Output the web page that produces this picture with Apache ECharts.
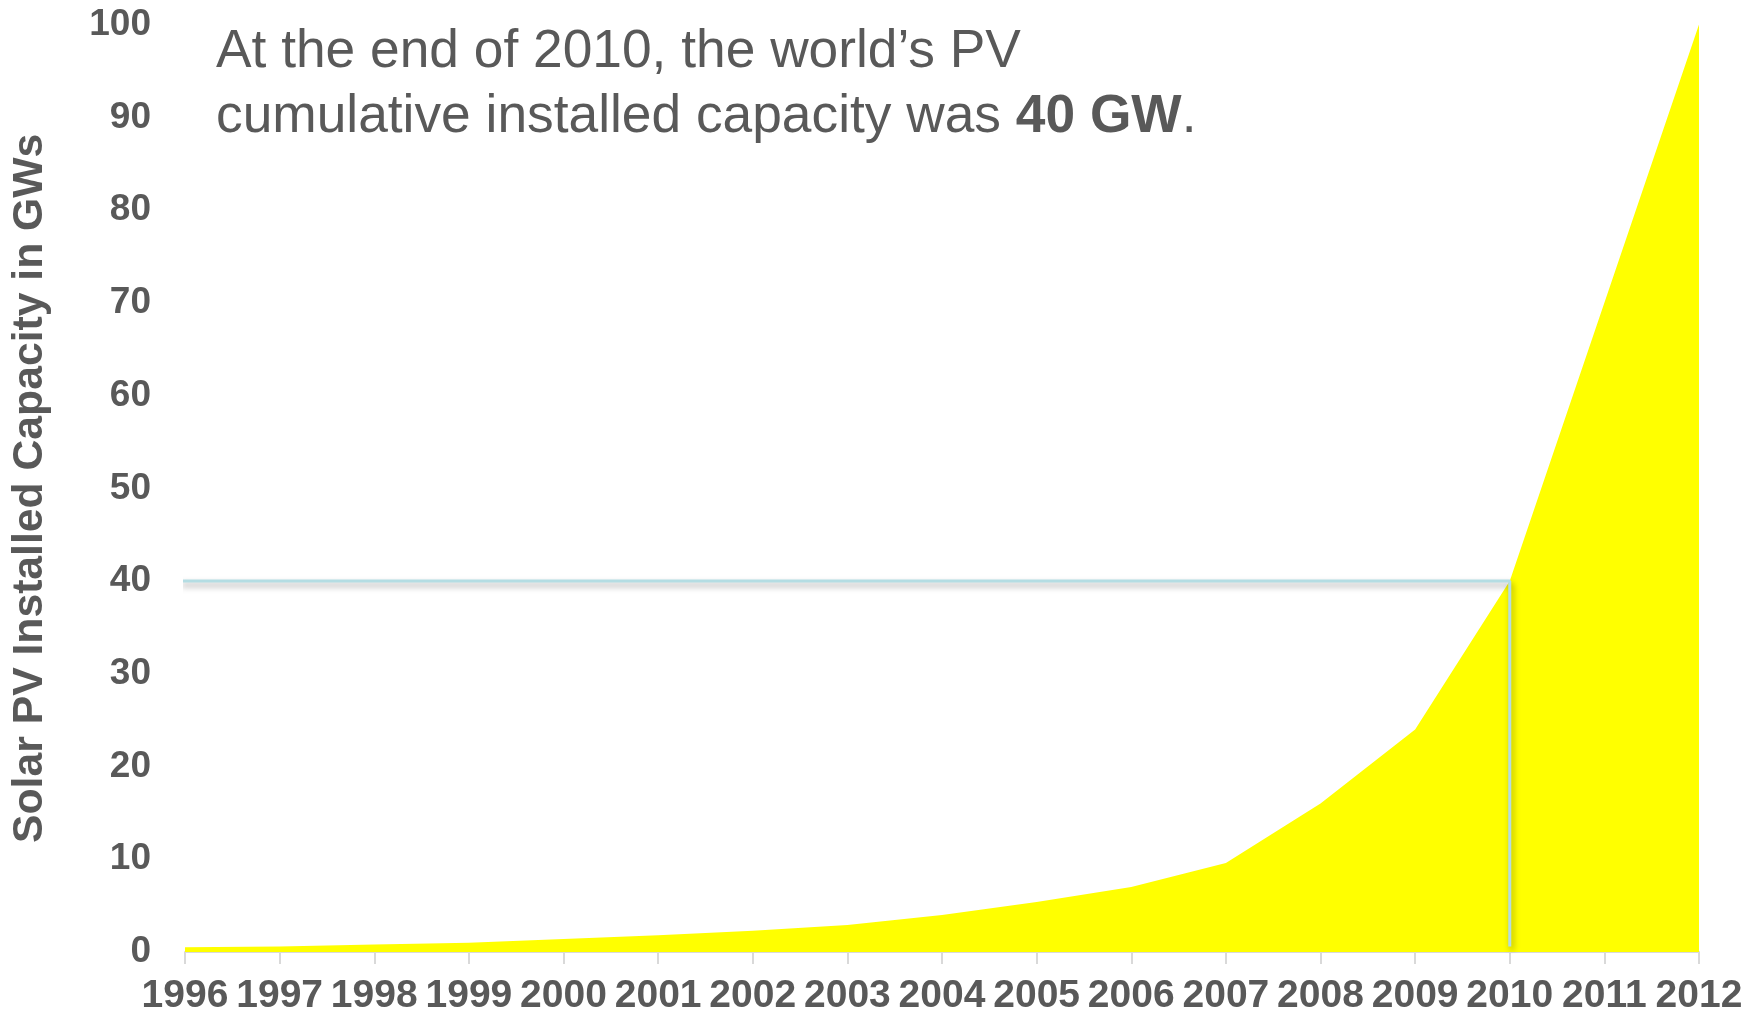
<!DOCTYPE html>
<html><head><meta charset="utf-8">
<script src="https://cdn.jsdelivr.net/npm/echarts@6/dist/echarts.min.js"></script>
<style>html,body{margin:0;padding:0;background:#fff}#c{width:1756px;height:1013px}</style>
</head><body><div id="c"></div>
<script>
const years = ['1996','1997','1998','1999','2000','2001','2002','2003','2004','2005','2006','2007','2008','2009','2010','2011','2012'];
const capacityGW = [0.5,0.6,0.8,1.0,1.4,1.8,2.3,2.9,4.0,5.4,7.0,9.6,16.0,24.0,40,70,100];
const refLine = [[1995.94,40],[2010,40],[2010,0.6]];
const yTitle = 'Solar PV Installed Capacity in GWs';

const chart = echarts.init(document.getElementById('c'));
const gray = '#595959';
chart.setOption({
  animation:false,
  backgroundColor:'#fff',
  title:{
    left:211, top:15,
    text:'{n|At the end of 2010, the world\u2019s PV}\n{n|cumulative installed capacity was }{b|40 GW}{n|.}',
    textStyle:{
      fontWeight:'normal',
      rich:{
        n:{fontFamily:'Liberation Sans, Arial', fontSize:53.3, fontWeight:'normal', color:gray, lineHeight:65},
        b:{fontFamily:'Liberation Sans, Arial', fontSize:53.3, fontWeight:'bold', color:gray, lineHeight:65}
      }
    }
  },
  grid:{left:185, right:57, top:24.6, bottom:61, outerBoundsMode:'none', containLabel:false},
  xAxis:[{
    type:'category', data:years, boundaryGap:false,
    axisLine:{lineStyle:{color:'#d9d9d9', width:2}},
    axisTick:{show:true, alignWithLabel:true, length:12, lineStyle:{color:'#d9d9d9', width:2}},
    axisLabel:{color:gray, fontFamily:'Liberation Sans, Arial', fontWeight:'bold', fontSize:39, margin:25, interval:0},
    splitLine:{show:false}
  },{
    type:'value', min:1996, max:2012, show:false
  }],
  yAxis:{
    type:'value', min:0, max:100, interval:10,
    name:yTitle, nameLocation:'middle', nameGap:133, nameRotate:90,
    nameTextStyle:{color:gray, fontFamily:'Liberation Sans, Arial', fontWeight:'bold', fontSize:42.7},
    axisLine:{show:false}, axisTick:{show:false}, splitLine:{show:false},
    axisLabel:{color:gray, fontFamily:'Liberation Sans, Arial', fontWeight:'bold', fontSize:37, margin:34}
  },
  series:[{
    type:'line', data:capacityGW, xAxisIndex:0, symbol:'none',
    lineStyle:{width:0}, areaStyle:{color:'#ffff00', opacity:1}, z:2
  },{
    type:'line', data:refLine, xAxisIndex:1, symbol:'none', z:3,
    lineStyle:{color:'#b4dde3', width:3, shadowColor:'rgba(0,0,0,0.35)', shadowBlur:6, shadowOffsetX:2, shadowOffsetY:4}
  }]
});
</script></body></html>
